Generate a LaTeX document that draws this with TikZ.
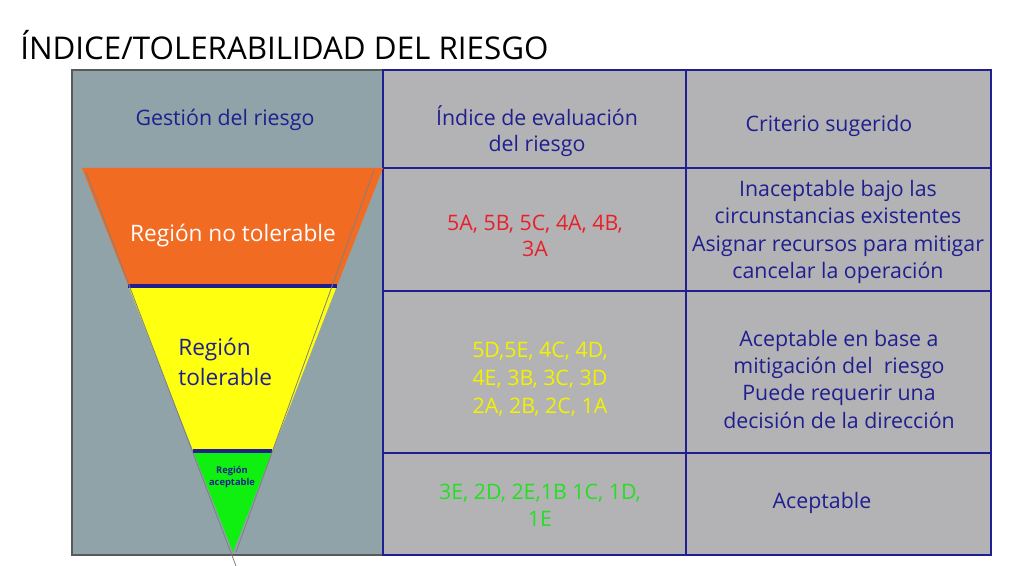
\documentclass[tikz,border=0pt]{standalone}
\usepackage{fontspec}
\setmainfont{Open Sans}
\begin{document}
\begin{tikzpicture}[x=0.75pt,y=-0.75pt,
  txt/.style={font=\fontsize{16}{19}\selectfont,align=center,inner sep=0},
  navy/.style={text=nblue}]
\definecolor{nblue}{HTML}{1F1F8F}
\definecolor{cellg}{HTML}{B3B3B5}
\definecolor{leftg}{HTML}{8FA3A8}
\definecolor{orng}{HTML}{F26B22}
\definecolor{yel}{HTML}{FFFF10}
\definecolor{grn}{HTML}{10F010}
\definecolor{redt}{HTML}{E8202A}
\definecolor{yelt}{HTML}{F2F200}
\definecolor{grnt}{HTML}{22E022}
\useasboundingbox[fill=white] (0,0) rectangle (1024,566);
\node[anchor=west,inner sep=0,font=\fontsize{23.5}{26}\selectfont] (title) at (20,45) {ÍNDICE/TOLERABILIDAD DEL RIESGO};
% cells
\fill[leftg] (72,70) rectangle (383,555);
\fill[cellg] (383,70) rectangle (991,555);
\draw[gray!70!black,line width=1.5pt] (383,555) -- (72,555) -- (72,70) -- (383,70);
\draw[nblue,line width=1pt] (383,70) -- (991,70) -- (991,555) -- (383,555) -- cycle;
\draw[nblue,line width=1pt] (686,70) -- (686,555);
\foreach \y in {168,291,453} \draw[nblue,line width=1pt] (383,\y) -- (991,\y);
% triangle
\begin{scope}
\clip (82,168) -- (383,168) -- (233,552) -- cycle;
\fill[orng] (60,160) rectangle (400,285);
\fill[yel] (60,285) rectangle (400,451);
\fill[grn] (60,451) rectangle (400,560);
\end{scope}
\draw[nblue,line width=2.5pt] (128,286) -- (337,286);
\draw[nblue,line width=2.5pt] (193,451) -- (272,451);
\draw[gray,line width=0.6pt] (86,172) -- (236,566);
\draw[gray,line width=0.6pt] (374,170) -- (236,552);
% texts
\node[txt,navy] (h1) at (225,120) {Gestión del riesgo};
\node[txt,navy] (h2) at (537,131) {Índice de evaluación\\del riesgo};
\node[txt,navy] (h3) at (829,126) {Criterio sugerido};
\node[txt,text=white,font=\fontsize{17}{20}\selectfont] (r1) at (233,236) {Región no tolerable};
\node[txt,navy,align=left,anchor=west,font=\fontsize{17}{22}\selectfont] (r2) at (178,362) {Región\\tolerable};
\node[inner sep=0,align=center,text=nblue,font=\fontsize{7}{8.5}\selectfont\bfseries] (r3) at (232,477) {Región\\aceptable};
\node[txt,text=redt] (i1) at (535,236) {5A, 5B, 5C, 4A, 4B,\\3A};
\node[txt,text=yelt,font=\fontsize{16}{21}\selectfont] (i2) at (540,379) {5D,5E, 4C, 4D,\\4E, 3B, 3C, 3D\\2A, 2B, 2C, 1A};
\node[txt,text=grnt,font=\fontsize{16}{20.5}\selectfont] (i3) at (540,505) {3E, 2D, 2E,1B 1C, 1D,\\1E};
\node[txt,navy,font=\fontsize{16}{20.5}\selectfont] (c1) at (838,232) {Inaceptable bajo las\\circunstancias existentes\\Asignar recursos para mitigar\\cancelar la operación};
\node[txt,navy,font=\fontsize{16}{20.5}\selectfont] (c2) at (839,379) {Aceptable en base a\\mitigación del\ \ riesgo\\Puede requerir una\\decisión de la dirección};
\node[txt,navy] (c3) at (822,503) {Aceptable};
\end{tikzpicture}
\end{document}
